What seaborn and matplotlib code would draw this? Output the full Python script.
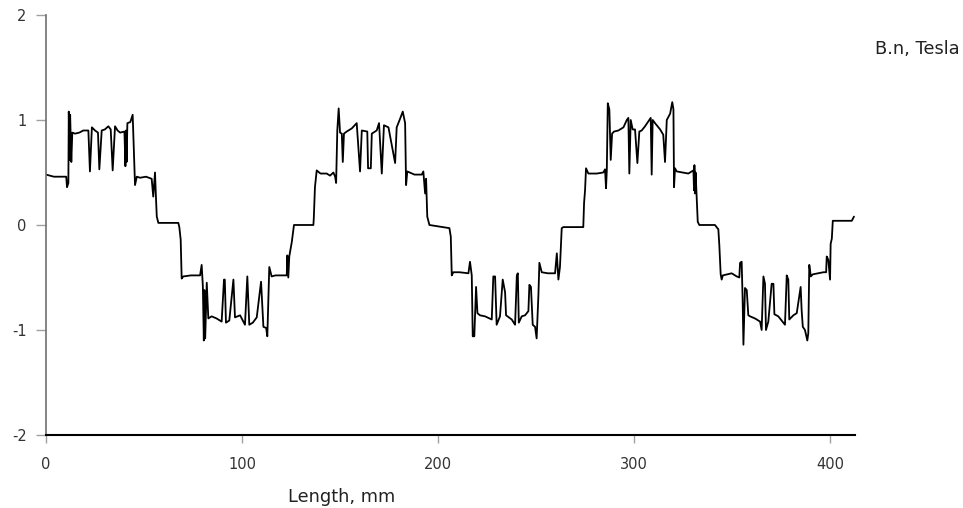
"""
Normal magnetic flux density B.n along the measured length.
"""

import matplotlib
matplotlib.use("Agg")
import matplotlib.pyplot as plt
import seaborn as sns
import pandas as pd

# ── Data ────────────────────────────────────────────────────────────────
length_mm = [
    0.0, 4.0, 10.3, 10.7, 11.4, 11.6, 12.0, 12.3, 12.9, 13.4, 14.8, 17.0, 19.0, 21.6,
    22.4, 23.4, 25.0, 26.5, 27.2, 28.4, 30.0, 31.8, 33.0, 34.0, 35.2, 36.5, 37.8,
    40.0, 40.5, 40.8, 41.1, 41.5, 43.0, 44.2, 44.8, 45.4, 46.3, 48.0, 51.0, 53.9,
    54.7, 55.6, 56.0, 56.5, 57.3, 62.0, 67.5,
    68.0, 68.7, 69.2, 70.0, 74.0, 78.6, 79.4, 80.0, 80.5, 80.8, 81.2, 82.0, 82.8,
    84.5, 87.0, 89.6, 90.8, 91.2, 91.8, 93.5, 95.6, 96.4, 99.0, 101.5, 102.7,
    103.7, 105.5, 107.5, 109.7, 110.9, 112.3, 112.9, 113.9, 115.1, 117.0, 122.8,
    123.1, 123.6, 124.1, 125.4, 126.5,
    136.4, 136.6, 137.2, 138.1, 140.0, 143.2, 144.9, 146.6, 147.5, 148.0, 148.6,
    149.3, 150.0, 150.9, 151.4, 152.0, 153.4, 156.0, 158.5, 160.2, 161.1, 163.9,
    164.3, 165.7, 166.2, 168.7, 169.9, 171.3, 172.4, 174.7, 178.1, 178.9, 180.6,
    182.0, 183.2, 183.7, 184.3, 188.0, 191.7, 192.5, 193.4, 193.9, 194.5, 195.6,
    205.8, 206.5, 207.0, 207.8, 211.0, 215.5, 216.3, 217.2, 217.7, 218.5, 219.4,
    220.1, 221.4, 224.0, 227.4, 228.2, 229.1, 229.9, 231.6, 233.0, 234.2, 234.7,
    237.6, 239.3, 240.2, 240.7, 241.2, 242.7, 244.4, 246.1, 246.6, 247.4, 248.3,
    249.5, 250.3, 251.2, 251.7, 252.9, 256.0, 259.7, 260.6, 261.4, 262.2, 263.1,
    263.9,
    274.1, 274.5, 275.0, 275.5, 276.7, 281.0, 284.3, 285.2, 285.7, 286.1, 286.6,
    287.4, 288.1, 288.8, 289.8, 292.0, 294.6, 296.3, 297.1, 297.6, 298.3, 299.3,
    300.5, 301.7, 302.7, 303.9, 305.6, 307.8, 308.5, 309.0, 309.5, 310.7, 313.3,
    314.9, 315.8, 316.7, 318.4, 319.5, 320.1, 320.4, 320.9, 321.8, 327.7, 330.3,
    330.6, 330.8, 331.1, 331.4, 332.0, 332.5, 333.3, 341.3, 342.5,
    343.0, 343.5, 344.2, 344.7, 345.3, 349.8, 352.4, 353.7, 354.1, 354.9, 355.4,
    355.8, 356.6, 357.5, 358.3, 359.2, 361.7, 364.3, 365.1, 366.0, 366.8, 367.3,
    368.5, 370.2, 371.1, 371.6, 373.6, 376.2, 377.0, 377.9, 378.7, 379.2, 381.3,
    383.0, 384.3, 385.0, 385.5, 386.1, 387.2, 388.4, 388.9, 389.4, 390.2, 391.2,
    396.6, 398.0, 398.3, 399.1, 400.0, 400.3, 400.9, 401.4, 411.1, 412.2,
]
b_n_tesla = [
    0.48, 0.46, 0.46, 0.36, 0.40, 1.08, 0.62, 1.05, 0.60, 0.88, 0.87, 0.88, 0.90, 0.90,
    0.51, 0.93, 0.90, 0.88, 0.53, 0.90, 0.91, 0.94, 0.91, 0.52, 0.94, 0.90, 0.88,
    0.89, 0.56, 0.90, 0.60, 0.97, 0.98, 1.05, 0.70, 0.38, 0.46, 0.45, 0.46, 0.44,
    0.27, 0.50, 0.30, 0.08, 0.02, 0.02, 0.02,
    -0.02, -0.14, -0.51, -0.49, -0.48, -0.48, -0.38, -0.58, -1.10, -0.62, -1.08, -0.55, -0.89,
    -0.87, -0.89, -0.92, -0.52, -0.52, -0.93, -0.91, -0.52, -0.88, -0.86, -0.95, -0.49,
    -0.95, -0.93, -0.88, -0.54, -0.97, -0.98, -1.06, -0.40, -0.49, -0.48, -0.48,
    -0.29, -0.50, -0.30, -0.16, 0.0,
    0.0, 0.06, 0.36, 0.52, 0.49, 0.49, 0.47, 0.50, 0.46, 0.40, 0.90,
    1.11, 0.88, 0.87, 0.60, 0.87, 0.89, 0.92, 0.97, 0.51, 0.90, 0.89,
    0.54, 0.54, 0.87, 0.90, 0.97, 0.49, 0.95, 0.93, 0.59, 0.93, 1.01,
    1.08, 0.97, 0.38, 0.51, 0.48, 0.48, 0.51, 0.30, 0.44, 0.08, 0.0,
    -0.03, -0.11, -0.48, -0.45, -0.45, -0.46, -0.35, -0.48, -1.06, -1.06, -0.59,
    -0.84, -0.86, -0.87, -0.90, -0.49, -0.49, -0.95, -0.87, -0.52, -0.64, -0.86,
    -0.90, -0.95, -0.48, -0.46, -0.93, -0.87, -0.86, -0.82, -0.57, -0.59, -0.95,
    -0.97, -1.08, -0.67, -0.36, -0.45, -0.46, -0.46, -0.27, -0.52, -0.40, -0.03,
    -0.02,
    -0.02, 0.21, 0.33, 0.54, 0.49, 0.49, 0.50, 0.53, 0.35, 0.52, 1.16,
    1.10, 0.62, 0.87, 0.89, 0.90, 0.93, 1.00, 1.02, 0.49, 1.00, 0.91,
    0.91, 0.59, 0.89, 0.90, 0.94, 1.00, 1.02, 0.48, 1.00, 0.97, 0.91,
    0.86, 0.60, 1.00, 1.06, 1.17, 1.10, 0.36, 0.54, 0.51, 0.49, 0.52,
    0.33, 0.57, 0.30, 0.50, 0.23, 0.03, 0.0, 0.0, -0.03,
    -0.04, -0.19, -0.47, -0.52, -0.48, -0.46, -0.49, -0.50, -0.36, -0.35, -0.71,
    -1.14, -0.60, -0.62, -0.86, -0.87, -0.89, -0.92, -1.00, -0.49, -0.56, -1.00,
    -0.92, -0.56, -0.56, -0.85, -0.87, -0.93, -0.95, -0.48, -0.52, -0.90, -0.86,
    -0.84, -0.68, -0.59, -0.81, -0.97, -1.00, -1.10, -1.03, -0.38, -0.49, -0.47,
    -0.45, -0.45, -0.30, -0.33, -0.52, -0.18, -0.13, 0.04, 0.04, 0.08,
]

x_ticks = [0, 100, 200, 300, 400]
y_ticks = [-2, -1, 0, 1, 2]


def main():
    df = pd.DataFrame({"length": length_mm, "bn": b_n_tesla})

    sns.set_theme(style="white")
    plt.rcParams["font.family"] = ["DejaVu Sans"]
    plt.rcParams["axes.unicode_minus"] = False

    fig = plt.figure(figsize=(9.63, 5.08), dpi=100)
    ax = fig.add_axes([0.0478, 0.1437, 0.8402, 0.8268])

    sns.lineplot(data=df, x="length", y="bn", sort=False, estimator=None,
                 color="black", lw=1.3, ax=ax)

    ax.set_xlim(0, 412.8)
    ax.set_ylim(-2, 2)
    ax.set_xticks(x_ticks)
    ax.set_yticks(y_ticks)
    ax.set_xlabel("")
    ax.set_ylabel("")

    for side in ["top", "right"]:
        ax.spines[side].set_visible(False)
    ax.spines["left"].set_color("#707070")
    ax.spines["left"].set_linewidth(1.2)
    ax.spines["bottom"].set_color("black")
    ax.spines["bottom"].set_linewidth(1.5)

    ax.tick_params(axis="y", direction="out", length=7, width=1, color="#a0a0a0",
                   labelsize=10.5, labelcolor="#333333", pad=7, left=True)
    ax.tick_params(axis="x", direction="out", length=6, width=1, color="#a0a0a0",
                   labelsize=10.5, labelcolor="#333333", pad=10, bottom=True)

    fig.text(0.953, 0.9035, "B.n, Tesla", ha="center", va="center", fontsize=12.8,
             color="#222222")
    fig.text(0.355, 0.0217, "Length, mm", ha="center", va="center", fontsize=12.8,
             color="#222222")

    fig.savefig("out.png", dpi=100)
    plt.close(fig)


if __name__ == "__main__":
    main()
